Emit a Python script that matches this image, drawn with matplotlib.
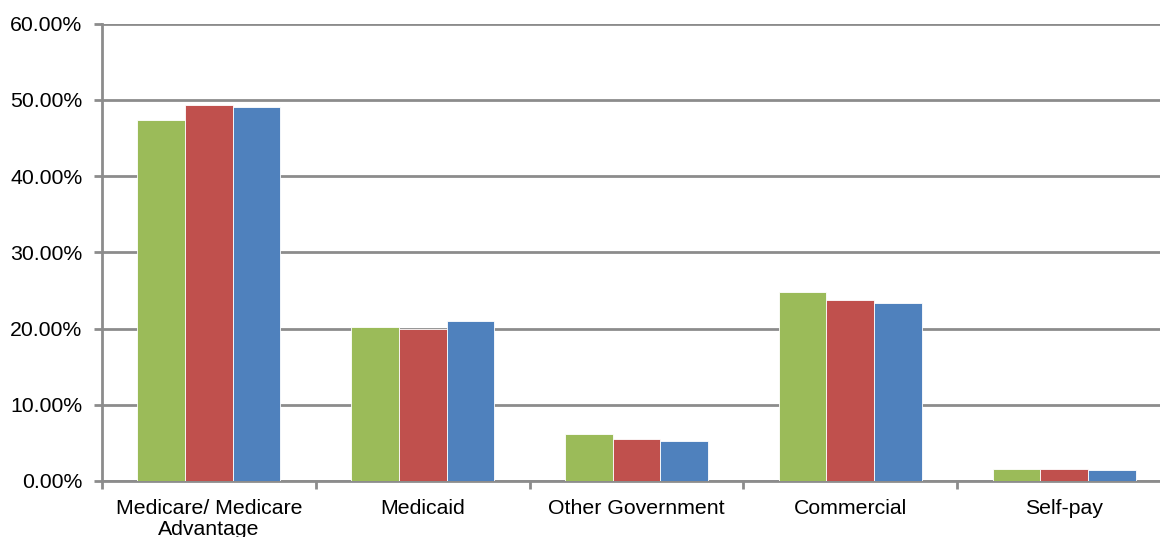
import matplotlib
matplotlib.use("Agg")
import matplotlib.pyplot as plt
from matplotlib.ticker import FuncFormatter, FixedLocator
import numpy as np

plt.rcParams['font.family'] = ['Liberation Sans', 'DejaVu Sans']

categories = ["Medicare/ Medicare\nAdvantage", "Medicaid", "Other Government", "Commercial", "Self-pay"]
series_green = [47.4, 20.2, 6.1, 24.8, 1.57]
series_red = [49.3, 20.0, 5.5, 23.8, 1.55]
series_blue = [49.1, 21.0, 5.2, 23.3, 1.4]
colors = ["#9bbb59", "#c0504d", "#4f81bd"]

W, H = 1160, 537
fig = plt.figure(figsize=(W / 100, H / 100), dpi=100)
ax = fig.add_axes([102 / W, 1 - 481 / H, (1171 - 102) / W, (481 - 23.5) / H])

x = np.arange(len(categories))
bw = 0.223
for i, (vals, c) in enumerate(zip([series_green, series_red, series_blue], colors)):
    ax.bar(x + (i - 1) * bw, vals, width=bw, color=c, edgecolor='white', linewidth=0.6, zorder=3)

ax.set_xlim(-0.5, len(categories) - 0.5)
ax.set_ylim(0, 60)
ax.set_yticks(np.arange(0, 61, 10))
ax.yaxis.set_major_formatter(FuncFormatter(lambda v, p: f"{v:.2f}%"))
ax.grid(axis='y', color='#8c8c8c', linewidth=2, zorder=0)
ax.set_axisbelow(True)

gray = '#8c8c8c'
for s in ['top', 'right']:
    ax.spines[s].set_visible(False)
for s in ['left', 'bottom']:
    ax.spines[s].set_color(gray)
    ax.spines[s].set_linewidth(2)

ax.tick_params(axis='y', length=6, width=2, color=gray, labelsize=15.3, pad=8)
ax.set_xticks(x)
ax.set_xticklabels(categories, fontsize=15.3, linespacing=1.1)
ax.tick_params(axis='x', length=0, pad=13)
ax.xaxis.set_minor_locator(FixedLocator(np.arange(-0.5, len(categories), 1.0)))
ax.tick_params(axis='x', which='minor', length=6, width=2, color=gray)

fig.savefig("out.png", dpi=100)
